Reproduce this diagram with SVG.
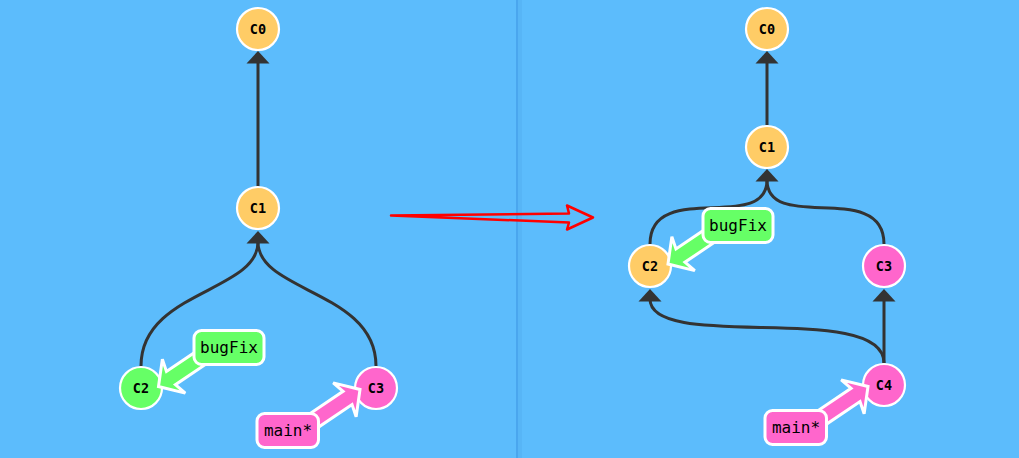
<svg xmlns="http://www.w3.org/2000/svg" width="1019" height="458" viewBox="0 0 1019 458">
<defs>
<style>
.edge{fill:none;stroke:#333;stroke-width:3}
.head{fill:#333}
.node circle{stroke:#fff;stroke-width:2.2}
.node text{font-family:"DejaVu Sans Mono","Liberation Mono",monospace;font-weight:bold;font-size:13.5px;fill:#000;text-anchor:middle}
.orange{fill:#ffcc66}
.green{fill:#66ff66}
.pink{fill:#ff66cc}
.label rect,.label use{stroke:#fff;stroke-width:3;stroke-linejoin:miter}
.label text{font-family:"DejaVu Sans Mono","Liberation Mono",monospace;font-size:16px;fill:#000;text-anchor:middle}
</style>
<path id="larrow" d="M0,0 L18.5,-20.5 L15,-8 L62,-8 L62,8 L15,8 L18.5,20.5 Z"/>
</defs>
<rect x="0" y="0" width="1019" height="458" fill="#5cbcfc"/>
<rect x="518" y="0" width="4" height="458" fill="#57b5f6"/>
<rect x="516" y="0" width="2" height="458" fill="#4aa6ee"/>

<g id="connectors">
<path class="edge" d="M258,187 L258,62"/>
<polygon class="head" points="258,51 269.5,63.5 246.5,63.5"/>
<path class="edge" d="M141,366 C141,291 258,292 258,242"/>
<path class="edge" d="M376,366 C376,291 258,292 258,242"/>
<polygon class="head" points="258,231 269.5,243.5 246.5,243.5"/>

<path class="edge" d="M767,125 L767,62"/>
<polygon class="head" points="767,51 778.5,63.5 755.5,63.5"/>
<path class="edge" d="M650,244 C650,179 767,234 767,180"/>
<path class="edge" d="M884,244 C884,179 767,234 767,180"/>
<polygon class="head" points="767,169 778.5,181.5 755.5,181.5"/>
<path class="edge" d="M884,363 L884,299"/>
<polygon class="head" points="884,289 895.5,301.5 872.5,301.5"/>
<path class="edge" d="M884,363 C884,300 650,353 650,299"/>
<polygon class="head" points="650,289 661.5,301.5 638.5,301.5"/>
</g>

<g id="transition-arrow">
<path d="M391,215.5 L569,213.5 L567,205.5 L593,217.5 L567,229.5 L569,222.5 Z" fill="none" stroke="#ff0000" stroke-width="2.5" stroke-linejoin="round"/>
</g>

<g id="left-C0" class="node"><circle class="orange" cx="258" cy="29" r="21"/><text x="258" y="33.5">C0</text></g>
<g id="left-C1" class="node"><circle class="orange" cx="258" cy="208" r="21"/><text x="258" y="212.5">C1</text></g>
<g id="left-C2" class="node"><circle class="green" cx="141" cy="388" r="21"/><text x="141" y="392.5">C2</text></g>
<g id="left-C3" class="node"><circle class="pink" cx="376" cy="388" r="21"/><text x="376" y="392.5">C3</text></g>

<g id="right-C0" class="node"><circle class="orange" cx="767" cy="29" r="21"/><text x="767" y="33.5">C0</text></g>
<g id="right-C1" class="node"><circle class="orange" cx="767" cy="147" r="21"/><text x="767" y="151.5">C1</text></g>
<g id="right-C2" class="node"><circle class="orange" cx="650" cy="266" r="21"/><text x="650" y="270.5">C2</text></g>
<g id="right-C3" class="node"><circle class="pink" cx="884" cy="266" r="21"/><text x="884" y="270.5">C3</text></g>
<g id="right-C4" class="node"><circle class="pink" cx="884" cy="385" r="21"/><text x="884" y="389.5">C4</text></g>

<g id="left-bugFix" class="label">
<use href="#larrow" class="green" transform="translate(158.5,386.5) rotate(-34)"/>
<rect class="green" x="194" y="330.5" width="70" height="34" rx="7.5"/>
<text x="229" y="353">bugFix</text>
</g>
<g id="left-main" class="label">
<use href="#larrow" class="pink" transform="translate(360,389.5) rotate(146)"/>
<rect class="pink" x="257" y="413.5" width="61.5" height="34" rx="7.5"/>
<text x="288" y="435.5">main*</text>
</g>
<g id="right-bugFix" class="label">
<use href="#larrow" class="green" transform="translate(668,264) rotate(-34)"/>
<rect class="green" x="703" y="208.5" width="70" height="34" rx="7.5"/>
<text x="738" y="231">bugFix</text>
</g>
<g id="right-main" class="label">
<use href="#larrow" class="pink" transform="translate(868,386.5) rotate(146)"/>
<rect class="pink" x="765" y="410.5" width="61.5" height="34" rx="7.5"/>
<text x="796" y="432.5">main*</text>
</g>
</svg>
